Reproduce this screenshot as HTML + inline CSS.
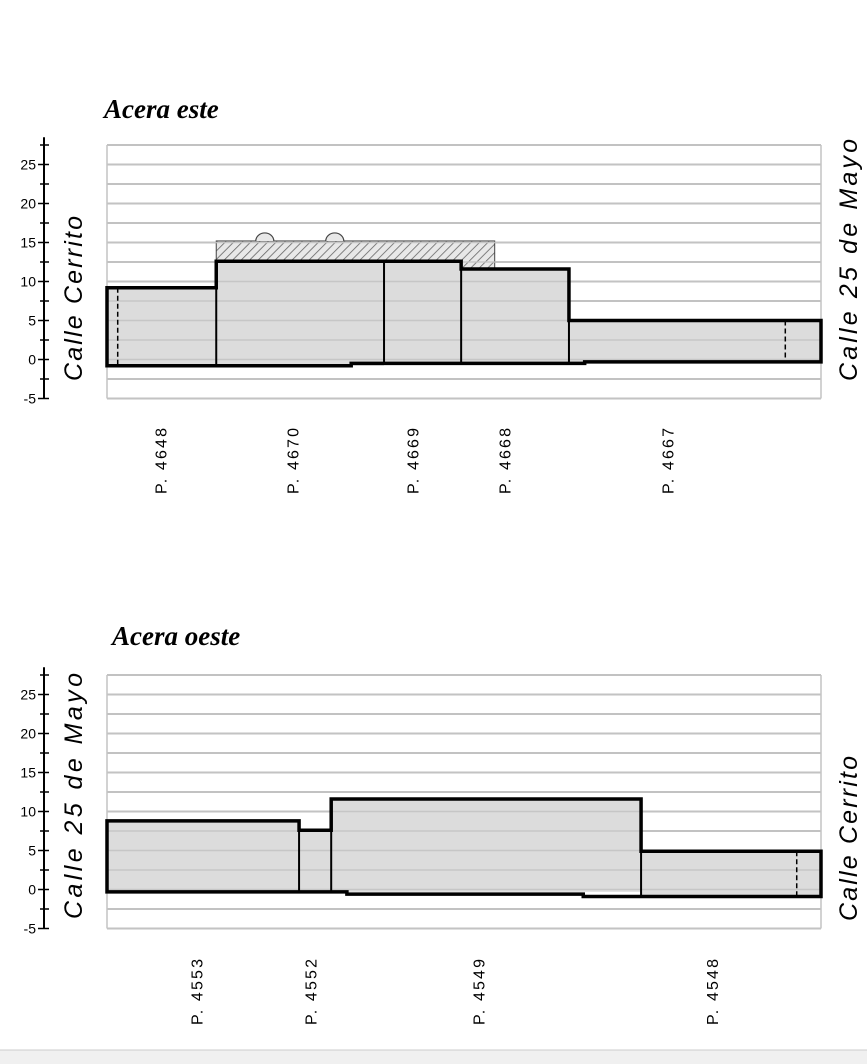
<!DOCTYPE html>
<html><head><meta charset="utf-8">
<style>
html,body{margin:0;padding:0;background:#fff;}
svg{display:block;}
.tick{font-family:"Liberation Sans",sans-serif;font-size:14px;fill:#000;}
.street{font-family:"Liberation Sans",sans-serif;font-style:italic;font-size:25px;fill:#000;}
.title{font-family:"Liberation Serif",serif;font-style:italic;font-weight:bold;font-size:27px;fill:#000;}
.plab{font-family:"Liberation Sans",sans-serif;font-size:16px;fill:#000;}
</style></head>
<body>
<svg id="svg" width="867" height="1064" viewBox="0 0 867 1064" xmlns="http://www.w3.org/2000/svg">
<defs>
<pattern id="hatch" width="6" height="6" patternUnits="userSpaceOnUse" patternTransform="rotate(45)">
<rect width="6" height="6" fill="#e8e8e8"/><line x1="0" y1="0" x2="0" y2="6" stroke="#666" stroke-width="1.6"/>
</pattern>
</defs>
<rect x="0" y="1050" width="867" height="14" fill="#f0f0f0"/>
<line x1="0" y1="1050" x2="867" y2="1050" stroke="#ccc"/>
</svg>
<script>
// ----- data: top chart (Acera este) -----
const topEdges = [0, 15.3, 38.8, 49.6, 64.7, 100];
const topHeights = [9.2, 12.6, 12.6, 11.6, 5];
const topBaseX = [0, 34.2, 66.9, 100];
const topBaseY = [-0.8, -0.5, -0.3];
const topLabels = ["P. 4648", "P. 4670", "P. 4669", "P. 4668", "P. 4667"];
const topLabelX = [7.5, 26, 42.8, 55.7, 78.5];
const topHatch = [15.3, 54.3, 15.2];
const topBumps = [22.1, 31.9];
const topDashed = [1.5, 95];
// ----- data: bottom chart (Acera oeste) -----
const botEdges = [0, 26.9, 31.4, 74.8, 100];
const botHeights = [8.8, 7.6, 11.6, 4.9];
const botBaseX = [0, 33.6, 66.7, 100];
const botBaseY = [-0.3, -0.6, -0.9];
const botLabels = ["P. 4553", "P. 4552", "P. 4549", "P. 4548"];
const botLabelX = [12.5, 28.5, 52, 84.7];
const botDashed = [96.6];
const yTicks = [25, 20, 15, 10, 5, 0, -5];

const NS = "http://www.w3.org/2000/svg";
const svg = document.getElementById('svg');
function mk(tag, attrs, parent){
  const e = document.createElementNS(NS, tag);
  for (const k in attrs) e.setAttribute(k, attrs[k]);
  (parent||svg).appendChild(e); return e;
}
function chart(cfg){
  const g = mk('g', {});
  
  
  const X = v => 107 + v * 7.14;
  const Y = v => cfg.y0 - v * 7.8;
  for (let v = 27.5; v >= -5; v -= 2.5) {
    const l = mk('line', {x1: X(0), x2: X(100), y1: Y(v), y2: Y(v), stroke: '#bdbdbd', 'stroke-width': 2}, g);
    
    
  }
  const lb = mk('line', {x1: X(0), x2: X(0), y1: Y(27.5), y2: Y(-5), stroke: '#c4c4c4', 'stroke-width': 1.5}, g);
  
  
  const rb = mk('line', {x1: X(100), x2: X(100), y1: Y(27.5), y2: Y(-5), stroke: '#c4c4c4', 'stroke-width': 1.5}, g);
  
  
  const ax = mk('line', {x1: 44, x2: 44, y1: Y(28.5), y2: Y(-5), stroke: '#000', 'stroke-width': 2}, g);
  
  
  for (let v = 27.5; v >= -5; v -= 2.5) {
    const major = Math.abs(v % 5) < 0.01;
    const t = mk('line', {x1: major ? 38 : 40, x2: 49, y1: Y(v), y2: Y(v), stroke: '#000', 'stroke-width': 1.5}, g);
    
    
  }
  yTicks.forEach(v => {
    const t = mk('text', {x: 36, y: Y(v) + 5, 'text-anchor': 'end', class: 'tick'}, g);
    t.textContent = v;
    
    
  });
  if (cfg.hatch) {
    const [a, b, h] = cfg.hatch;
    const hr = mk('rect', {x: X(a), y: Y(h), width: X(b) - X(a), height: Y(cfg.heights[3]) - Y(h), fill: 'url(#hatch)', stroke: '#444', 'stroke-width': 1}, g);
    
    
    cfg.bumps.forEach(bx => {
      const p = mk('path', {d: `M${X(bx) - 9},${Y(h)} A9,8 0 0 1 ${X(bx) + 9},${Y(h)}`, fill: '#e8e8e8', stroke: '#444', 'stroke-width': 1.2}, g);
      
      
    });
  }
  const baseAt = x => { for (let i = 0; i < cfg.baseY.length; i++) if (x < cfg.baseX[i + 1]) return cfg.baseY[i]; return cfg.baseY[cfg.baseY.length - 1]; };
  for (let i = 0; i < cfg.heights.length; i++) {
    const x0 = cfg.edges[i], x1 = cfg.edges[i + 1];
    const r = mk('rect', {x: X(x0), y: Y(cfg.heights[i]), width: X(x1) - X(x0), height: Y(baseAt(x0)) - Y(cfg.heights[i]), fill: '#dcdcdc'}, g);
    
    
  }
  for (let v = 27.5; v >= -5; v -= 2.5) {
    const l = mk('line', {x1: X(0), x2: X(100), y1: Y(v), y2: Y(v), stroke: '#c4c4c4', 'stroke-width': 1.5, opacity: 0.9}, g);
    
    
  }
  let d = `M${X(cfg.edges[0])},${Y(baseAt(0))} L${X(cfg.edges[0])},${Y(cfg.heights[0])}`;
  for (let i = 0; i < cfg.heights.length; i++) {
    d += ` L${X(cfg.edges[i + 1])},${Y(cfg.heights[i])}`;
    if (i + 1 < cfg.heights.length) d += ` L${X(cfg.edges[i + 1])},${Y(cfg.heights[i + 1])}`;
  }
  d += ` L${X(100)},${Y(cfg.baseY[cfg.baseY.length - 1])}`;
  for (let i = cfg.baseY.length - 1; i >= 0; i--) {
    d += ` L${X(cfg.baseX[i + 1])},${Y(cfg.baseY[i])} L${X(cfg.baseX[i])},${Y(cfg.baseY[i])}`;
  }
  d += ' Z';
  const o = mk('path', {d: d, fill: 'none', stroke: '#000', 'stroke-width': 3.5, 'stroke-linejoin': 'miter'}, g);
  
  
  for (let i = 1; i < cfg.heights.length; i++) {
    const x = cfg.edges[i];
    const top = Math.min(cfg.heights[i - 1], cfg.heights[i]);
    const l = mk('line', {x1: X(x), x2: X(x), y1: Y(top), y2: Y(baseAt(x)), stroke: '#000', 'stroke-width': 2}, g);
    
    
  }
  cfg.dashed.forEach(x => {
    let h = cfg.heights[0];
    for (let i = 0; i < cfg.heights.length; i++) if (x >= cfg.edges[i] && x < cfg.edges[i + 1]) h = cfg.heights[i];
    const l = mk('line', {x1: X(x), x2: X(x), y1: Y(h), y2: Y(baseAt(x)), stroke: '#000', 'stroke-width': 1.5, 'stroke-dasharray': '5,3'}, g);
    
    
  });
  cfg.labels.forEach((s, i) => {
    const x = X(cfg.labelX[i]) + 6, y = cfg.labY;
    const t = mk('text', {x: x, y: y, transform: `rotate(-90 ${x} ${y})`, class: 'plab', textLength: 66, lengthAdjust: 'spacing'}, g);
    t.textContent = s;
    
    
  });
  const sl = mk('text', {x: 0, y: 0, transform: `translate(${82},${cfg.leftY}) rotate(-90)`, class: 'street', textLength: cfg.leftLen, lengthAdjust: 'spacing'}, g);
  sl.textContent = cfg.leftStreet;
  
  
  const sr = mk('text', {x: 0, y: 0, transform: `translate(${857},${cfg.rightY}) rotate(-90)`, class: 'street', textLength: cfg.rightLen, lengthAdjust: 'spacing'}, g);
  sr.textContent = cfg.rightStreet;
  
  
  const tt = mk('text', {x: cfg.titleX, y: cfg.titleY, class: 'title'}, g);
  tt.textContent = cfg.title;
  
  
}
chart({name: 'chart-acera-este', y0: 359.5, edges: topEdges, heights: topHeights, baseX: topBaseX, baseY: topBaseY,
  labels: topLabels, labelX: topLabelX, hatch: topHatch, bumps: topBumps, dashed: topDashed, labY: 494,
  leftStreet: 'Calle  Cerrito', leftY: 381, leftLen: 165, rightStreet: 'Calle  25  de  Mayo', rightY: 381, rightLen: 242,
  title: 'Acera este', titleX: 104, titleY: 118});
chart({name: 'chart-acera-oeste', y0: 889.5, edges: botEdges, heights: botHeights, baseX: botBaseX, baseY: botBaseY,
  labels: botLabels, labelX: botLabelX, hatch: null, bumps: [], dashed: botDashed, labY: 1025,
  leftStreet: 'Calle  25  de  Mayo', leftY: 919, leftLen: 246, rightStreet: 'Calle  Cerrito', rightY: 921, rightLen: 165,
  title: 'Acera oeste', titleX: 112, titleY: 645});
</script>
</body></html>
